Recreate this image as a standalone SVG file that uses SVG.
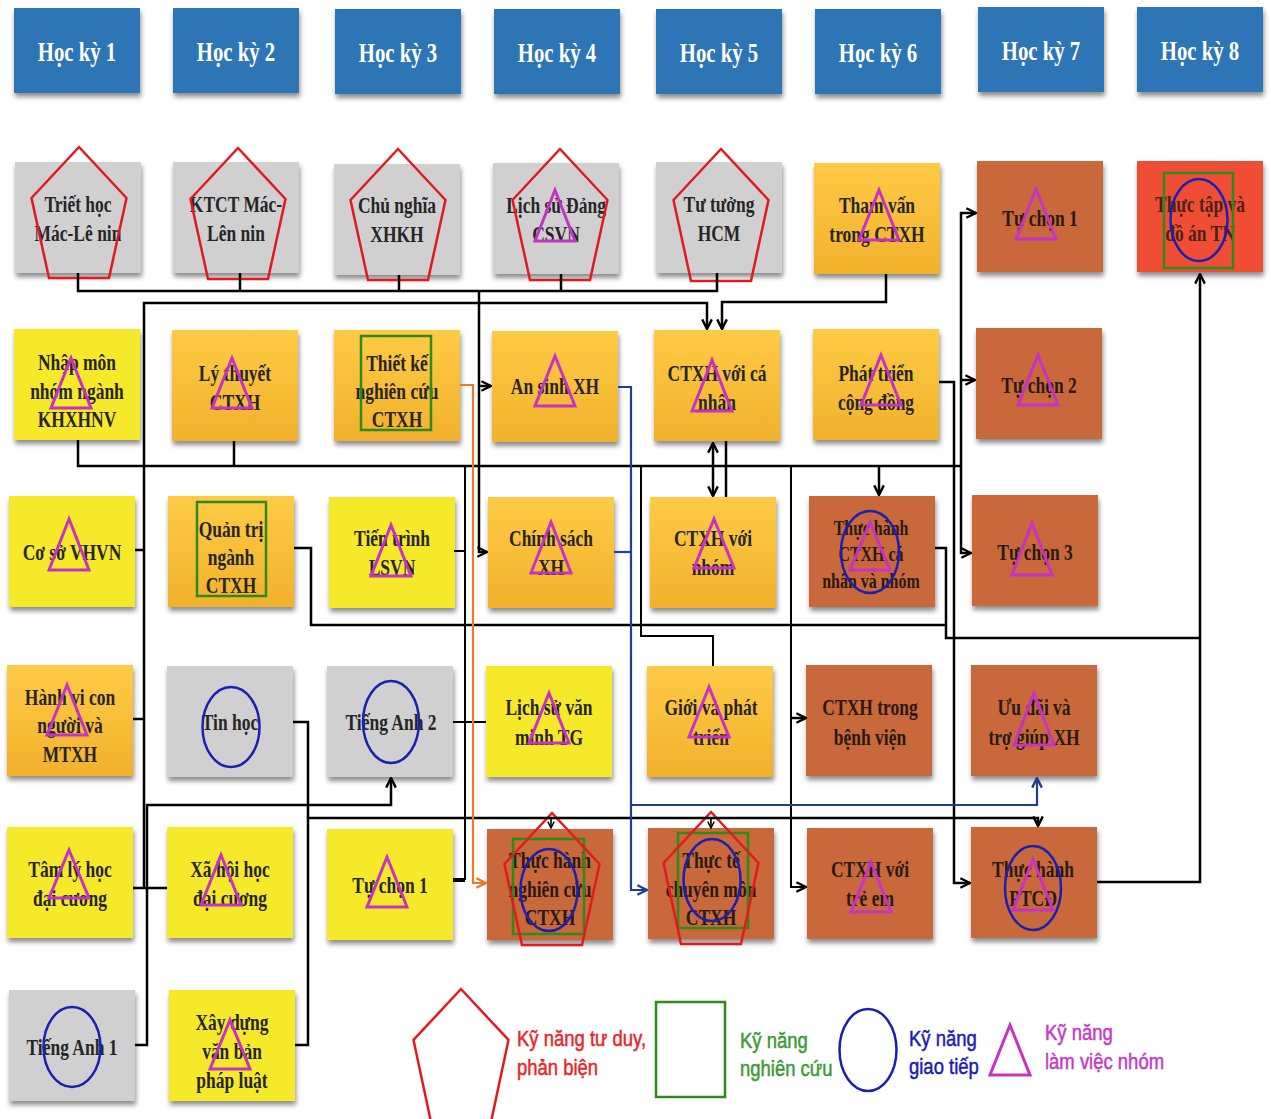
<svg xmlns="http://www.w3.org/2000/svg" width="1271" height="1119" viewBox="0 0 1271 1119">
<defs>
<filter id="sh" x="-10%" y="-10%" width="125%" height="125%"><feDropShadow dx="1" dy="4" stdDeviation="2.5" flood-color="#000" flood-opacity="0.45"/></filter>
<linearGradient id="og" x1="0" y1="0" x2="0" y2="1"><stop offset="0" stop-color="#ffcb45"/><stop offset="1" stop-color="#f1b12c"/></linearGradient>
<marker id="ah" viewBox="0 0 10 10" refX="9" refY="5" markerWidth="12" markerHeight="12" markerUnits="userSpaceOnUse" orient="auto-start-reverse"><path d="M1 1 L9 5 L1 9" fill="none" stroke="#000" stroke-width="2"/></marker>
<marker id="as" viewBox="0 0 10 10" refX="9" refY="5" markerWidth="8" markerHeight="8" markerUnits="userSpaceOnUse" orient="auto"><path d="M1 1 L9 5 L1 9" fill="none" stroke="#000" stroke-width="1.8"/></marker>
<marker id="ab" viewBox="0 0 10 10" refX="9" refY="5" markerWidth="12" markerHeight="12" markerUnits="userSpaceOnUse" orient="auto"><path d="M1 1 L9 5 L1 9" fill="none" stroke="#1f3f8f" stroke-width="2"/></marker>
<marker id="ao" viewBox="0 0 10 10" refX="9" refY="5" markerWidth="12" markerHeight="12" markerUnits="userSpaceOnUse" orient="auto"><path d="M1 1 L9 5 L1 9" fill="none" stroke="#ea7a25" stroke-width="2"/></marker>
</defs>
<style>
.hd{fill:#2e74b5;filter:url(#sh)}
.gr{fill:#d0d0d0;filter:url(#sh)}
.ye{fill:#f6e92b;filter:url(#sh)}
.or{fill:url(#og);filter:url(#sh)}
.br{fill:#c8673a;filter:url(#sh)}
.rd{fill:#f04e35;filter:url(#sh)}
.ht{font-family:"Liberation Serif",serif;font-weight:bold;font-size:27px;fill:#fff;text-anchor:middle}
.t{font-family:"Liberation Serif",serif;font-weight:bold;font-size:23px;fill:#262626;text-anchor:middle}
.tb{font-family:"Liberation Serif",serif;font-weight:bold;font-size:23px;fill:#2a1a12;text-anchor:middle}
.pg{fill:none;stroke:#e3191f;stroke-width:2.5}
.tr{fill:none;stroke:#c533c5;stroke-width:3}
.el{fill:none;stroke:#1a20b0;stroke-width:2.5}
.sq{fill:none;stroke:#2f8a1a;stroke-width:2.5}
.c{fill:none;stroke:#000;stroke-width:2.5}
.cb{fill:none;stroke:#1f3f8f;stroke-width:2.2}
.co{fill:none;stroke:#ea7a25;stroke-width:2.2}
.lg{font-family:"Liberation Sans",Arial,sans-serif;font-size:22px;stroke-width:.5}
</style>
<rect width="1271" height="1119" fill="#fff"/>

<g id="headers">
<g id="hk1"><rect class="hd" x="14" y="8" width="126" height="85"/><text class="ht" transform="translate(77 0) scale(.77 1)" x="0" y="61">Học kỳ 1</text></g>
<g id="hk2"><rect class="hd" x="173" y="8" width="126" height="85"/><text class="ht" transform="translate(236 0) scale(.77 1)" x="0" y="61">Học kỳ 2</text></g>
<g id="hk3"><rect class="hd" x="335" y="9" width="126" height="85"/><text class="ht" transform="translate(398 0) scale(.77 1)" x="0" y="62">Học kỳ 3</text></g>
<g id="hk4"><rect class="hd" x="494" y="9" width="126" height="85"/><text class="ht" transform="translate(557 0) scale(.77 1)" x="0" y="62">Học kỳ 4</text></g>
<g id="hk5"><rect class="hd" x="656" y="9" width="126" height="85"/><text class="ht" transform="translate(719 0) scale(.77 1)" x="0" y="62">Học kỳ 5</text></g>
<g id="hk6"><rect class="hd" x="815" y="9" width="126" height="85"/><text class="ht" transform="translate(878 0) scale(.77 1)" x="0" y="62">Học kỳ 6</text></g>
<g id="hk7"><rect class="hd" x="978" y="7" width="126" height="85"/><text class="ht" transform="translate(1041 0) scale(.77 1)" x="0" y="60">Học kỳ 7</text></g>
<g id="hk8"><rect class="hd" x="1137" y="7" width="126" height="85"/><text class="ht" transform="translate(1200 0) scale(.77 1)" x="0" y="60">Học kỳ 8</text></g>
</g>

<!-- Row 2 -->
<g id="triet-hoc"><rect class="gr" x="15" y="162" width="126" height="111"/><text class="t" transform="translate(78 0) scale(.76 1)"><tspan x="0" y="212">Triết học</tspan><tspan x="0" y="241">Mác-Lê nin</tspan></text><polygon class="pg" points="79,147 126.5,198 109,278 49,278 31.5,198"/></g>
<g id="ktct"><rect class="gr" x="173" y="162" width="126" height="111"/><text class="t" transform="translate(236 0) scale(.76 1)"><tspan x="0" y="212">KTCT Mác-</tspan><tspan x="0" y="241">Lên nin</tspan></text><polygon class="pg" points="238,148 285.5,199 268,279 208,279 190.5,199"/></g>
<g id="cnxh"><rect class="gr" x="334" y="164" width="126" height="111"/><text class="t" transform="translate(397 0) scale(.76 1)"><tspan x="0" y="213">Chủ nghĩa</tspan><tspan x="0" y="242">XHKH</tspan></text><polygon class="pg" points="398,149 445.5,200 428,280 368,280 350.5,200"/></g>
<g id="lsd"><rect class="gr" x="493" y="163" width="126" height="111"/><text class="t" transform="translate(556 0) scale(.76 1)"><tspan x="0" y="213">Lịch sử Đảng</tspan><tspan x="0" y="242">CSVN</tspan></text><polygon class="pg" points="560,149 607.5,200 590,280 530,280 512.5,200"/><polygon class="tr" points="555,190 575,241 535,241"/></g>
<g id="hcm"><rect class="gr" x="656" y="162" width="126" height="111"/><text class="t" transform="translate(719 0) scale(.76 1)"><tspan x="0" y="212">Tư tưởng</tspan><tspan x="0" y="241">HCM</tspan></text><polygon class="pg" points="721,149 768.5,200 751,281 691,281 673.5,200"/></g>
<g id="tham-van"><rect class="or" x="814" y="163" width="126" height="111"/><text class="t" transform="translate(877 0) scale(.76 1)"><tspan x="0" y="213">Tham vấn</tspan><tspan x="0" y="242">trong CTXH</tspan></text><polygon class="tr" points="879,190 899,240 859,240"/></g>
<g id="tu-chon-1-hk7"><rect class="br" x="977" y="161" width="126" height="111"/><text class="tb" transform="translate(1040 0) scale(.76 1)" x="0" y="226">Tự chọn 1</text><polygon class="tr" points="1036,189 1056,239 1016,239"/></g>
<g id="thuc-tap"><rect class="rd" x="1137" y="161" width="126" height="111"/><text class="tb" transform="translate(1200 0) scale(.76 1)" fill-opacity=".85"><tspan x="0" y="212">Thực tập và</tspan><tspan x="0" y="241">đồ án TN</tspan></text><rect class="sq" x="1164" y="173" width="69" height="95"/><ellipse class="el" cx="1199" cy="220" rx="28.5" ry="41"/></g>

<!-- Row 3 -->
<g id="nhap-mon"><rect class="ye" x="14" y="329" width="126" height="111"/><text class="t" transform="translate(77 0) scale(.76 1)"><tspan x="0" y="370">Nhập môn</tspan><tspan x="0" y="399">nhóm ngành</tspan><tspan x="0" y="427">KHXHNV</tspan></text><polygon class="tr" points="71,358 91,408 51,408"/></g>
<g id="ly-thuyet"><rect class="or" x="172" y="330" width="126" height="111"/><text class="t" transform="translate(235 0) scale(.76 1)"><tspan x="0" y="381">Lý thuyết</tspan><tspan x="0" y="410">CTXH</tspan></text><polygon class="tr" points="232,358 252,408 212,408"/></g>
<g id="thiet-ke"><rect class="or" x="334" y="330" width="126" height="111"/><text class="t" transform="translate(397 0) scale(.76 1)"><tspan x="0" y="371">Thiết kế</tspan><tspan x="0" y="399">nghiên cứu</tspan><tspan x="0" y="427">CTXH</tspan></text><rect class="sq" x="361" y="336" width="70" height="94"/></g>
<g id="an-sinh"><rect class="or" x="492" y="331" width="126" height="111"/><text class="t" transform="translate(555 0) scale(.76 1)" x="0" y="394">An sinh XH</text><polygon class="tr" points="555,356 575,406 535,406"/></g>
<g id="ctxh-ca-nhan"><rect class="or" x="654" y="330" width="126" height="111"/><text class="t" transform="translate(717 0) scale(.76 1)"><tspan x="0" y="381">CTXH với cá</tspan><tspan x="0" y="410">nhân</tspan></text><polygon class="tr" points="712,360 732,411 692,411"/></g>
<g id="phat-trien"><rect class="or" x="813" y="329" width="126" height="111"/><text class="t" transform="translate(876 0) scale(.76 1)"><tspan x="0" y="381">Phát triển</tspan><tspan x="0" y="410">cộng đồng</tspan></text><polygon class="tr" points="881,355 901,405 861,405"/></g>
<g id="tu-chon-2"><rect class="br" x="976" y="328" width="126" height="111"/><text class="tb" transform="translate(1039 0) scale(.76 1)" x="0" y="393">Tự chọn 2</text><polygon class="tr" points="1038,355 1058,405 1018,405"/></g>

<!-- Row 4 -->
<g id="co-so-vhvn"><rect class="ye" x="9" y="496" width="126" height="111"/><text class="t" transform="translate(72 0) scale(.76 1)" x="0" y="560">Cơ sở VHVN</text><polygon class="tr" points="69,519 89,570 49,570"/></g>
<g id="quan-tri"><rect class="or" x="168" y="496" width="126" height="111"/><text class="t" transform="translate(231 0) scale(.76 1)"><tspan x="0" y="537">Quản trị</tspan><tspan x="0" y="565">ngành</tspan><tspan x="0" y="593">CTXH</tspan></text><rect class="sq" x="197" y="502" width="69" height="94"/></g>
<g id="tien-trinh"><rect class="ye" x="329" y="497" width="126" height="111"/><text class="t" transform="translate(392 0) scale(.76 1)"><tspan x="0" y="546">Tiến trình</tspan><tspan x="0" y="575">LSVN</tspan></text><polygon class="tr" points="391,525 411,576 371,576"/></g>
<g id="chinh-sach"><rect class="or" x="488" y="497" width="126" height="111"/><text class="t" transform="translate(551 0) scale(.76 1)"><tspan x="0" y="546">Chính sách</tspan><tspan x="0" y="575">XH</tspan></text><polygon class="tr" points="551,522 571,573 531,573"/></g>
<g id="ctxh-nhom"><rect class="or" x="650" y="497" width="126" height="111"/><text class="t" transform="translate(713 0) scale(.76 1)"><tspan x="0" y="546">CTXH với</tspan><tspan x="0" y="575">nhóm</tspan></text><polygon class="tr" points="714,519 734,568 694,568"/></g>
<g id="th-ctxh-ca-nhan-nhom"><rect class="br" x="809" y="496" width="126" height="111"/><text class="tb" style="font-size:21px" transform="translate(871 0) scale(.76 1)"><tspan x="0" y="535">Thực hành</tspan><tspan x="0" y="561">CTXH cá</tspan><tspan x="0" y="588">nhân và nhóm</tspan></text><ellipse class="el" cx="870" cy="552" rx="29" ry="41"/><polygon class="tr" points="870,522 890,570 850,570"/></g>
<g id="tu-chon-3"><rect class="br" x="972" y="495" width="126" height="111"/><text class="tb" transform="translate(1035 0) scale(.76 1)" x="0" y="560">Tự chọn 3</text><polygon class="tr" points="1032,523 1052,575 1012,575"/></g>

<!-- Row 5 -->
<g id="hanh-vi"><rect class="or" x="7" y="665" width="126" height="111"/><text class="t" transform="translate(70 0) scale(.76 1)"><tspan x="0" y="705">Hành vi con</tspan><tspan x="0" y="733">người và</tspan><tspan x="0" y="762">MTXH</tspan></text><polygon class="tr" points="67,685 87,735 47,735"/></g>
<g id="tin-hoc"><rect class="gr" x="167" y="666" width="126" height="111"/><text class="t" transform="translate(230 0) scale(.76 1)" x="0" y="730">Tin học</text><ellipse class="el" cx="231" cy="727" rx="28.5" ry="40"/></g>
<g id="tieng-anh-2"><rect class="gr" x="327" y="666" width="126" height="111"/><text class="t" transform="translate(391 0) scale(.76 1)" x="0" y="730">Tiếng Anh 2</text><ellipse class="el" cx="391" cy="722" rx="28" ry="41"/></g>
<g id="ls-van-minh"><rect class="ye" x="486" y="666" width="126" height="111"/><text class="t" transform="translate(549 0) scale(.76 1)"><tspan x="0" y="715">Lịch sử văn</tspan><tspan x="0" y="745">minh TG</tspan></text><polygon class="tr" points="549,693 569,743 529,743"/></g>
<g id="gioi-phat-trien"><rect class="or" x="647" y="666" width="126" height="111"/><text class="t" transform="translate(711 0) scale(.76 1)"><tspan x="0" y="715">Giới và phát</tspan><tspan x="0" y="745">triển</tspan></text><polygon class="tr" points="709,687 729,737 689,737"/></g>
<g id="ctxh-benh-vien"><rect class="br" x="806" y="665" width="126" height="111"/><text class="tb" transform="translate(870 0) scale(.76 1)"><tspan x="0" y="715">CTXH trong</tspan><tspan x="0" y="745">bệnh viện</tspan></text></g>
<g id="uu-dai"><rect class="br" x="971" y="665" width="126" height="111"/><text class="tb" transform="translate(1034 0) scale(.76 1)"><tspan x="0" y="715">Ưu đãi và</tspan><tspan x="0" y="745">trợ giúp XH</tspan></text><polygon class="tr" points="1034,693 1054,745 1014,745"/></g>

<!-- Row 6 -->
<g id="tam-ly-hoc"><rect class="ye" x="7" y="827" width="126" height="111"/><text class="t" transform="translate(70 0) scale(.76 1)"><tspan x="0" y="877">Tâm lý học</tspan><tspan x="0" y="906">đại cương</tspan></text><polygon class="tr" points="69,850 89,898 49,898"/></g>
<g id="xa-hoi-hoc"><rect class="ye" x="167" y="827" width="126" height="111"/><text class="t" transform="translate(230 0) scale(.76 1)"><tspan x="0" y="877">Xã hội học</tspan><tspan x="0" y="906">đại cương</tspan></text><polygon class="tr" points="221,855 241,905 201,905"/></g>
<g id="tu-chon-1-hk3"><rect class="ye" x="327" y="829" width="126" height="111"/><text class="t" transform="translate(390 0) scale(.76 1)" x="0" y="893">Tự chọn 1</text><polygon class="tr" points="387,857 407,907 367,907"/></g>
<g id="th-nghien-cuu"><rect class="br" x="487" y="829" width="126" height="111"/><text class="tb" transform="translate(550 0) scale(.76 1)"><tspan x="0" y="868">Thực hành</tspan><tspan x="0" y="897">nghiên cứu</tspan><tspan x="0" y="925">CTXH</tspan></text><rect class="sq" x="513" y="839" width="71" height="95"/><ellipse class="el" cx="549" cy="890" rx="28.5" ry="41"/><polygon class="pg" points="552,813 599.5,864 582,945 522,945 504.5,864"/></g>
<g id="thuc-te"><rect class="br" x="648" y="828" width="126" height="111"/><text class="tb" transform="translate(711 0) scale(.76 1)"><tspan x="0" y="868">Thực tế</tspan><tspan x="0" y="897">chuyên môn</tspan><tspan x="0" y="925">CTXH</tspan></text><rect class="sq" x="678" y="833" width="70" height="95"/><ellipse class="el" cx="712" cy="880" rx="28.5" ry="41"/><polygon class="pg" points="711,812 758.5,863 741,944 681,944 663.5,863"/></g>
<g id="ctxh-tre-em"><rect class="br" x="807" y="828" width="126" height="111"/><text class="tb" transform="translate(870 0) scale(.76 1)"><tspan x="0" y="877">CTXH với</tspan><tspan x="0" y="906">trẻ em</tspan></text><polygon class="tr" points="871,862 891,912 851,912"/></g>
<g id="th-ptcd"><rect class="br" x="971" y="827" width="126" height="111"/><text class="tb" transform="translate(1033 0) scale(.76 1)"><tspan x="0" y="877">Thực hành</tspan><tspan x="0" y="906">PTCĐ</tspan></text><ellipse class="el" cx="1033" cy="888" rx="28" ry="42"/><polygon class="tr" points="1033,859 1053,910 1013,910"/></g>

<!-- Row 7 -->
<g id="tieng-anh-1"><rect class="gr" x="9" y="990" width="126" height="111"/><text class="t" transform="translate(72 0) scale(.76 1)" x="0" y="1055">Tiếng Anh 1</text><ellipse class="el" cx="72" cy="1047" rx="28.5" ry="40"/></g>
<g id="xay-dung-vbpl"><rect class="ye" x="169" y="990" width="126" height="111"/><text class="t" transform="translate(232 0) scale(.76 1)"><tspan x="0" y="1030">Xây dựng</tspan><tspan x="0" y="1059">văn bản</tspan><tspan x="0" y="1088">pháp luật</tspan></text><polygon class="tr" points="230,1020 250,1069 210,1069"/></g>

<g id="connectors">
<path class="c" d="M78 273 V291 H717 V273"/>
<path class="c" d="M240 273 V291 M399 275 V291 M561 274 V291"/>
<path class="c" d="M479 291 V552 H487" marker-end="url(#ah)"/>
<path class="c" d="M479 386 H491" marker-end="url(#ah)"/>
<path class="c" d="M144 888 V303 H707 V329" marker-end="url(#ah)"/>
<path class="c" d="M135 550 H144 M133 719 H144 M133 888 H167"/>
<path class="c" d="M886 274 V302 H722 V329" marker-end="url(#ah)"/>
<path class="c" d="M135 1045 H147 V805 H391 V778" marker-end="url(#ah)"/>
<path class="c" d="M295 1045 H308 V818 H1038 V826" marker-end="url(#ah)"/>
<path class="c" d="M293 722 H308 V818"/>
<path class="c" style="stroke-width:1.6" d="M551 818 V828" marker-end="url(#as)"/>
<path class="c" style="stroke-width:1.6" d="M711 818 V828" marker-end="url(#as)"/>
<path class="c" d="M294 548 H311 V625 H946"/>
<path class="c" d="M935 548 H946 V638 H1200"/>
<path class="c" d="M1097 882 H1200 V274" marker-end="url(#ah)"/>
<path class="c" d="M78 440 V466 H961 M234 441 V466"/>
<path class="c" d="M961 466 V213 H976" marker-end="url(#ah)"/>
<path class="c" d="M961 380 H975" marker-end="url(#ah)"/>
<path class="c" d="M961 466 V553 H971" marker-end="url(#ah)"/>
<path class="c" style="stroke-width:2" d="M465 466 V880 M454 551 H465 M453 722 H486"/>
<path class="c" style="stroke-width:4" d="M453 880 H465"/>
<path class="c" d="M713 443 V496" marker-start="url(#ah)" marker-end="url(#ah)"/>
<path class="c" d="M726 441 V497"/>
<path class="c" d="M879 466 V495" marker-end="url(#ah)"/>
<path class="c" style="stroke-width:2" d="M641 466 V636 H713 V666"/>
<path class="c" style="stroke-width:2" d="M791 466 V887 H806" marker-end="url(#ah)"/>
<path class="c" d="M791 718 H806" marker-end="url(#ah)"/>
<path class="c" d="M939 382 H954 V883 H970" marker-end="url(#ah)"/>
<path class="co" d="M460 385 H473 V883 H486" marker-end="url(#ao)"/>
<path class="cb" d="M618 387 H631 V890 H647" marker-end="url(#ab)"/>
<path class="cb" d="M614 552 H631"/>
<path class="cb" d="M631 805 H1037 V778" marker-end="url(#ab)"/>
</g>

<g id="legend">
<polygon class="pg" points="461,989 508.5,1040 491,1122 431,1122 413.5,1040"/>
<text class="lg" fill="#e8262a" stroke="#e8262a" transform="translate(517 0) scale(.84 1)"><tspan x="0" y="1046">Kỹ năng tư duy,</tspan><tspan x="0" y="1075">phản biện</tspan></text>
<rect class="sq" x="656" y="1002" width="69" height="95"/>
<text class="lg" fill="#3a9b35" stroke="#3a9b35" transform="translate(740 0) scale(.84 1)"><tspan x="0" y="1048">Kỹ năng</tspan><tspan x="0" y="1076">nghiên cứu</tspan></text>
<ellipse class="el" cx="868" cy="1050" rx="28.5" ry="41"/>
<text class="lg" fill="#1c1cb0" stroke="#1c1cb0" transform="translate(909 0) scale(.84 1)"><tspan x="0" y="1046">Kỹ năng</tspan><tspan x="0" y="1074">giao tiếp</tspan></text>
<polygon class="tr" points="1010,1025 1030,1075 990,1075"/>
<text class="lg" fill="#c43ac4" stroke="#c43ac4" transform="translate(1045 0) scale(.84 1)"><tspan x="0" y="1040">Kỹ năng</tspan><tspan x="0" y="1069">làm việc nhóm</tspan></text>
</g>
</svg>
